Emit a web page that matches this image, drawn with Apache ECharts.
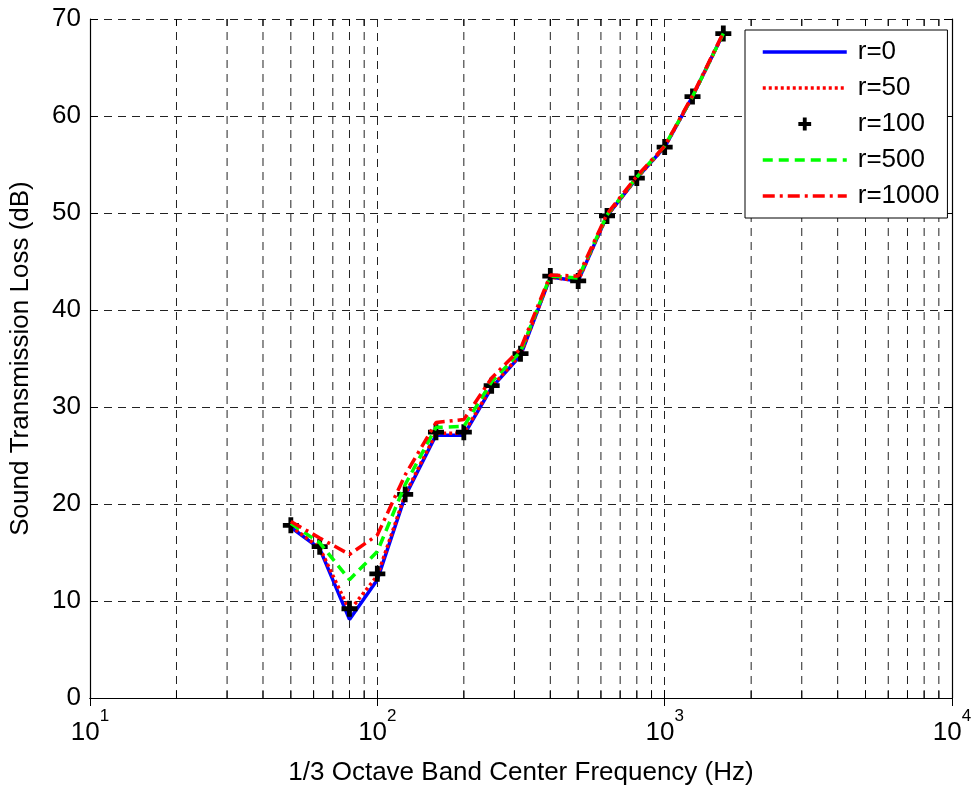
<!DOCTYPE html>
<html>
<head>
<meta charset="utf-8">
<script src="https://cdn.jsdelivr.net/npm/echarts@6/dist/echarts.min.js"></script>
<style>html,body{margin:0;padding:0;background:#fff}#c{width:976px;height:791px}</style>
</head>
<body>
<div id="c"></div>
<script>
const freqs = [50, 63, 80, 100, 125, 160, 200, 250, 315, 400, 500, 630, 800, 1000, 1250, 1600];
const r0    = [17.6, 15.4, 8.1, 12.2, 20.8, 27.1, 27.1, 32.0, 35.3, 43.4, 43.0, 49.7, 53.6, 56.8, 62.0, 68.5];
const r50   = [17.7, 15.5, 9.0, 12.6, 21.0, 27.3, 27.3, 32.1, 35.4, 43.4, 43.0, 49.7, 53.6, 56.8, 62.0, 68.5];
const r100  = [17.8, 15.6, 9.2, 12.8, 21.0, 27.4, 27.4, 32.2, 35.5, 43.5, 43.0, 49.7, 53.6, 56.8, 62.0, 68.5];
const r500  = [18.0, 16.0, 12.2, 15.1, 22.0, 27.9, 28.0, 32.6, 35.7, 43.5, 43.3, 49.8, 53.7, 56.9, 62.0, 68.5];
const r1000 = [18.2, 16.5, 14.8, 16.8, 23.0, 28.4, 28.7, 33.0, 36.0, 43.6, 43.5, 49.9, 53.8, 56.9, 62.1, 68.6];
const seriesNames = ['r=0', 'r=50', 'r=100', 'r=500', 'r=1000'];
const minorFreqs = [20,30,40,50,60,70,80,90,200,300,400,500,600,700,800,900,2000,3000,4000,5000,6000,7000,8000,9000];
const xTicks = [10, 100, 1000, 10000];
const yMin = 0, yMax = 70, yStep = 10;

const FONT = 'Liberation Sans, Arial, Helvetica, sans-serif';
const pair = arr => freqs.map((f, i) => [f, arr[i]]);
const plus = 'path://M3.5,0 L6.5,0 L6.5,3.5 L10,3.5 L10,6.5 L6.5,6.5 L6.5,10 L3.5,10 L3.5,6.5 L0,6.5 L0,3.5 L3.5,3.5 Z';
const gridDash = [8, 6];
const LW = 3.5;
const styles = {
  'r=0':    {color: '#0000ff', type: 'solid'},
  'r=50':   {color: '#ff0000', type: [3, 3]},
  'r=500':  {color: '#00ff00', type: [10, 6]},
  'r=1000': {color: '#ff0000', type: [12, 5, 3, 5]}
};

const legendData = seriesNames.map(n => n === 'r=100'
  ? {name: n, itemStyle: {color: '#000'}}
  : {name: n, itemStyle: {opacity: 0}, lineStyle: {width: LW, color: styles[n].color, type: styles[n].type}});

const chart = echarts.init(document.getElementById('c'), null, {renderer: 'canvas'});
chart.setOption({
  animation: false,
  backgroundColor: '#fff',
  textStyle: {fontFamily: FONT},
  grid: {left: 88, right: 24, top: 19, bottom: 91, containLabel: false},
  xAxis: [{
    type: 'log', logBase: 10, min: xTicks[0], max: xTicks[xTicks.length - 1],
    name: '1/3 Octave Band Center Frequency (Hz)', nameLocation: 'middle', nameGap: 62,
    nameTextStyle: {fontSize: 26, color: '#000', fontFamily: FONT},
    axisLine: {show: true, lineStyle: {color: '#000', width: 1.2}},
    axisTick: {show: true, inside: true, length: 8, lineStyle: {color: '#000'}},
    splitLine: {show: true, lineStyle: {color: '#222', type: gridDash, width: 1}},
    axisLabel: {
      margin: 10, color: '#000',
      formatter: v => '{b|10}{s|' + Math.round(Math.log10(v)) + '}',
      rich: {
        b: {fontSize: 26, fontFamily: FONT, color: '#000', lineHeight: 38, verticalAlign: 'bottom'},
        s: {fontSize: 17, fontFamily: FONT, color: '#000', lineHeight: 38, verticalAlign: 'top'}
      }
    }
  }, {
    type: 'log', logBase: 10, min: xTicks[0], max: xTicks[xTicks.length - 1], position: 'top',
    axisLine: {show: true, lineStyle: {color: '#000', width: 1.2}},
    axisTick: {show: true, inside: true, length: 8, lineStyle: {color: '#000'}},
    axisLabel: {show: false}, splitLine: {show: false}
  }],
  yAxis: [{
    type: 'value', min: yMin, max: yMax, interval: yStep,
    name: 'Sound Transmission Loss (dB)', nameLocation: 'middle', nameGap: 56,
    nameTextStyle: {fontSize: 26, color: '#000', fontFamily: FONT},
    axisLine: {show: true, lineStyle: {color: '#000', width: 1.2}},
    axisTick: {show: true, inside: true, length: 8, lineStyle: {color: '#000'}},
    splitLine: {show: true, lineStyle: {color: '#222', type: gridDash, width: 1}},
    axisLabel: {fontSize: 26, color: '#000', margin: 9, fontFamily: FONT}
  }, {
    type: 'value', min: yMin, max: yMax, interval: yStep, position: 'right',
    axisLine: {show: true, lineStyle: {color: '#000', width: 1.2}},
    axisTick: {show: true, inside: true, length: 8, lineStyle: {color: '#000'}},
    axisLabel: {show: false}, splitLine: {show: false}
  }],
  legend: {
    data: legendData,
    orient: 'vertical', left: 745, top: 30,
    padding: [9, 8, 9, 16], itemGap: 10, itemWidth: 84, itemHeight: 16,
    backgroundColor: '#fff', borderColor: '#000', borderWidth: 1, borderRadius: 0,
    textStyle: {fontSize: 26, color: '#000', fontFamily: FONT, padding: [0, 0, 0, 6]}
  },
  series: [
    {
      type: 'custom', name: 'minorgrid', z: 1, silent: true,
      xAxisIndex: 0, yAxisIndex: 0,
      data: minorFreqs.map(f => [f, yMin]),
      encode: {x: 0, y: 1},
      renderItem: (params, api) => {
        const f = api.value(0);
        const p0 = api.coord([f, yMin]);
        const p1 = api.coord([f, yMax]);
        return {type: 'group', children: [
          {type: 'line', shape: {x1: p0[0], y1: p0[1], x2: p1[0], y2: p1[1]}, style: {stroke: '#222', lineWidth: 1, lineDash: gridDash}},
          {type: 'line', shape: {x1: p0[0], y1: p0[1], x2: p0[0], y2: p0[1] - 7}, style: {stroke: '#000', lineWidth: 1}},
          {type: 'line', shape: {x1: p1[0], y1: p1[1], x2: p1[0], y2: p1[1] + 7}, style: {stroke: '#000', lineWidth: 1}}
        ]};
      }
    },
    {name: 'r=0', type: 'line', z: 3, data: pair(r0), symbol: 'none', color: styles['r=0'].color,
     lineStyle: {color: styles['r=0'].color, width: LW, type: styles['r=0'].type}},
    {name: 'r=50', type: 'line', z: 4, data: pair(r50), symbol: 'none', color: styles['r=50'].color,
     lineStyle: {color: styles['r=50'].color, width: LW, type: styles['r=50'].type}},
    {name: 'r=100', type: 'line', z: 5, data: pair(r100), symbol: plus, symbolSize: 16, showSymbol: true,
     color: '#000', itemStyle: {color: '#000'}, lineStyle: {opacity: 0, width: 0}},
    {name: 'r=500', type: 'line', z: 6, data: pair(r500), symbol: 'none', color: styles['r=500'].color,
     lineStyle: {color: styles['r=500'].color, width: LW, type: styles['r=500'].type}},
    {name: 'r=1000', type: 'line', z: 7, data: pair(r1000), symbol: 'none', color: styles['r=1000'].color,
     lineStyle: {color: styles['r=1000'].color, width: LW, type: styles['r=1000'].type}}
  ]
});
</script>
</body>
</html>
